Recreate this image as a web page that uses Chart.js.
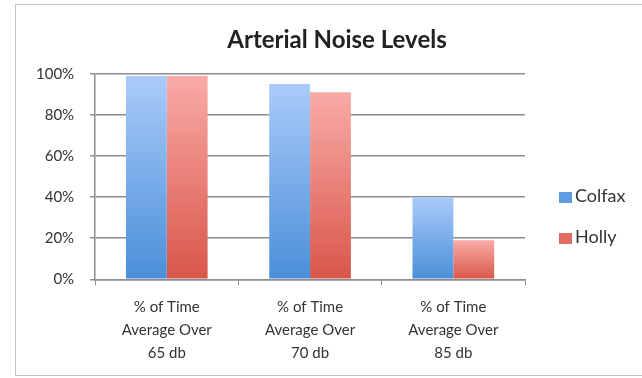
<!DOCTYPE html>
<html>
<head>
<meta charset="utf-8">
<script src="https://cdn.jsdelivr.net/npm/chart.js@4"></script>
<style>
  html, body { margin: 0; padding: 0; background: #fff; overflow: hidden; }
  #frame {
    position: absolute; left: 15px; top: 4px;
    width: 638px; height: 370px;
    border: 1px solid #c4c4c4; border-right: none;
  }
  #legenda {
    position: absolute; left: 543px; top: 174px;
    font-family: Lato, "Open Sans", sans-serif; font-size: 18px; color: #333;
  }
  #legenda div { height: 41px; line-height: 32px; }
  #legenda span {
    display: inline-block; width: 13px; height: 11px; margin-right: 3px; vertical-align: -1px;
  }
</style>
</head>
<body>
<div id="frame">
  <canvas id="grafico" width="638" height="370"></canvas>
  <div id="legenda"></div>
</div>
<script>
const categorias = [
  ["% of Time", "Average Over", "65 db"],
  ["% of Time", "Average Over", "70 db"],
  ["% of Time", "Average Over", "85 db"]
];
const colfax = [99, 95, 40];
const holly = [99, 91, 19];
const ticksY = [0, 20, 40, 60, 80, 100];

// gradiente por barra (claro em cima, escuro embaixo)
function gradiente(topo, base) {
  return (c) => {
    const chart = c.chart;
    if (!chart.chartArea || c.raw === undefined) return base;
    const y = chart.scales.y;
    const g = chart.ctx.createLinearGradient(0, y.getPixelForValue(c.raw), 0, y.getPixelForValue(0));
    g.addColorStop(0, topo);
    g.addColorStop(1, base);
    return g;
  };
}

const fonte = "Lato, 'Open Sans', sans-serif";

const grafico = new Chart(document.getElementById("grafico"), {
  type: "bar",
  data: {
    labels: categorias,
    datasets: [
      {
        label: "Colfax",
        data: colfax,
        backgroundColor: gradiente("#aacbfa", "#4a8fd8"),
        legendColor: "#5e9de3",
        categoryPercentage: 0.57,
        barPercentage: 1
      },
      {
        label: "Holly",
        data: holly,
        backgroundColor: gradiente("#f9aba7", "#d9564a"),
        legendColor: "#e36b62",
        categoryPercentage: 0.57,
        barPercentage: 1
      }
    ]
  },
  options: {
    responsive: false,
    animation: false,
    layout: { padding: { left: 4, right: 0, bottom: 0 } },
    plugins: {
      title: {
        display: true,
        text: "Arterial Noise Levels",
        color: "#222",
        font: { family: fonte, size: 24, weight: "bold" },
        padding: { top: 21, bottom: 19 }
      },
      legend: { display: false },
      tooltip: { enabled: false }
    },
    scales: {
      x: {
        grid: { display: true, drawOnChartArea: false, drawTicks: true, tickLength: 6, color: "#8c8c8c", offset: true },
        border: { color: "#8c8c8c", width: 1.5 },
        ticks: { color: "#333", font: { family: fonte, size: 15, lineHeight: 1.55 }, padding: 10, maxRotation: 0 }
      },
      y: {
        min: 0,
        max: 100,
        afterBuildTicks: (s) => { s.ticks = ticksY.map((v) => ({ value: v })); },
        grid: { color: "#8c8c8c", lineWidth: 1.5, tickLength: 5 },
        border: { color: "#8c8c8c", width: 1.5 },
        ticks: { color: "#333", font: { family: fonte, size: 15 }, padding: 16, callback: (v) => v + "%" }
      },
      // eixo vazio só para reservar o espaço da legenda
      espaco: {
        type: "linear",
        position: "right",
        grid: { display: false },
        border: { display: false },
        ticks: { display: false },
        afterFit: (s) => { s.width = 129; }
      }
    }
  }
});

// legenda feita a partir dos datasets
document.getElementById("legenda").innerHTML = grafico.data.datasets
  .map((ds) => `<div><span style="background:${ds.legendColor}"></span>${ds.label}</div>`)
  .join("");
</script>
</body>
</html>
